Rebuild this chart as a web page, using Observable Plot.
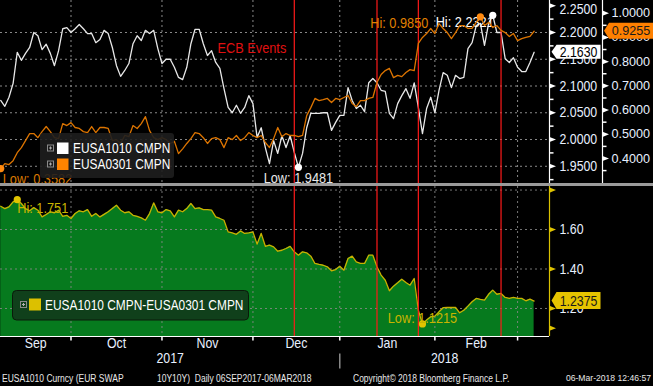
<!DOCTYPE html>
<html><head><meta charset="utf-8">
<script src="https://cdn.jsdelivr.net/npm/d3@7"></script>
<script src="https://cdn.jsdelivr.net/npm/@observablehq/plot@0.6"></script>
<style>
html,body{margin:0;padding:0;background:#000;}
#root{position:relative;width:653px;height:386px;overflow:hidden;background:#000;}
#root svg{position:absolute;left:0;}
</style></head><body><div id="root"></div>
<script>
// ---------------- data ----------------
const startDate = "2017-09-06", endDate = "2018-03-06";
const eventDates = ["2017-12-14", "2018-01-11", "2018-01-25", "2018-02-22"];
const eventLabel = "ECB Events";
const seriesNames = ["EUSA1010 CMPN", "EUSA0301 CMPN"];
const spreadName = "EUSA1010 CMPN-EUSA0301 CMPN";
const eusa1010 = [2.073,2.062,2.079,2.105,2.163,2.148,2.161,2.172,2.200,2.194,2.168,2.178,2.161,2.138,2.166,2.207,2.209,2.200,2.207,2.215,
2.207,2.198,2.198,2.181,2.187,2.204,2.198,2.172,2.138,2.118,2.129,2.142,2.179,2.194,2.185,2.204,2.198,2.204,2.170,2.142,
2.150,2.150,2.135,2.116,2.112,2.135,2.179,2.206,2.206,2.179,2.157,2.166,2.144,2.133,2.095,2.060,2.050,2.064,2.049,2.060,
2.082,2.067,2.004,2.022,1.985,1.955,1.998,1.974,2.007,1.985,2.007,1.976,1.9481,1.974,2.022,2.049,2.049,2.049,2.050,2.050,
2.017,2.032,2.045,2.045,2.097,2.073,2.058,2.064,2.052,2.106,2.114,2.106,2.092,2.090,2.049,2.039,2.067,2.082,2.095,2.077,
2.106,2.060,2.011,2.058,2.079,2.050,2.092,2.125,2.120,2.097,2.120,2.114,2.116,2.170,2.181,2.213,2.217,2.176,2.217,2.2321,
2.200,2.200,2.151,2.144,2.153,2.135,2.127,2.127,2.144,2.163];
const eusa0301 = [0.3582,0.379,0.375,0.391,0.424,0.445,0.474,0.503,0.503,0.486,0.511,0.532,0.511,0.486,0.482,0.544,0.536,0.548,0.528,0.524,
0.511,0.507,0.532,0.507,0.528,0.528,0.524,0.474,0.478,0.462,0.495,0.490,0.536,0.524,0.544,0.573,0.515,0.486,0.478,0.486,
0.478,0.462,0.471,0.420,0.440,0.462,0.482,0.507,0.503,0.486,0.462,0.482,0.486,0.478,0.445,0.486,0.478,0.495,0.474,0.486,
0.507,0.495,0.486,0.495,0.466,0.445,0.482,0.528,0.490,0.503,0.495,0.495,0.490,0.495,0.577,0.610,0.648,0.639,0.643,0.648,
0.631,0.648,0.643,0.652,0.660,0.627,0.614,0.639,0.639,0.648,0.652,0.714,0.747,0.763,0.772,0.734,0.743,0.738,0.755,0.767,
0.763,0.875,0.900,0.916,0.937,0.916,0.957,0.937,0.920,0.895,0.920,0.949,0.949,0.937,0.937,0.962,0.985,0.949,0.962,0.941,
0.949,0.929,0.920,0.904,0.916,0.887,0.895,0.900,0.904,0.9255];
const spread = [1.718,1.706,1.715,1.740,1.751,1.732,1.706,1.695,1.711,1.698,1.664,1.676,1.690,1.685,1.698,1.667,1.672,1.656,1.681,1.695,
1.690,1.701,1.667,1.681,1.664,1.677,1.690,1.706,1.723,1.698,1.685,1.690,1.672,1.667,1.659,1.647,1.681,1.735,1.690,1.685,
1.701,1.695,1.664,1.698,1.690,1.706,1.732,1.706,1.710,1.701,1.701,1.698,1.664,1.656,1.647,1.588,1.583,1.576,1.593,1.580,
1.583,1.588,1.526,1.580,1.515,1.521,1.512,1.490,1.495,1.504,1.515,1.487,1.470,1.487,1.482,1.465,1.428,1.423,1.419,1.411,
1.391,1.397,1.414,1.394,1.453,1.465,1.436,1.428,1.428,1.470,1.470,1.411,1.369,1.343,1.290,1.313,1.330,1.348,1.332,1.318,
1.352,1.191,1.1215,1.141,1.158,1.161,1.183,1.204,1.205,1.205,1.205,1.178,1.191,1.212,1.234,1.251,1.246,1.242,1.272,1.293,
1.272,1.276,1.256,1.251,1.256,1.251,1.251,1.239,1.247,1.2375];
const ticksLeft = [2.25, 2.20, 2.15, 2.10, 2.05, 2.00, 1.95];
const ticksRight = [1.0, 0.9, 0.8, 0.7, 0.6, 0.5, 0.4];
const ticksBottomLabelled = [1.6, 1.4, 1.2];
const ticksBottomArrows = [1.8, 1.6, 1.4, 1.2, 1.1];
const monthLabels = ["Sep", "Oct", "Nov", "Dec", "Jan", "Feb"];
const footerTexts = ["EUSA1010 Curncy (EUR SWAP", "10Y10Y)  Daily 06SEP2017-06MAR2018", "Copyright\u00A9 2018 Bloomberg Finance L.P.", "06-Mar-2018 12:46:57"];

// ---------------- derived ----------------
const dates = [];
for (let d = new Date(startDate + "T00:00:00Z"); d <= new Date(endDate + "T00:00:00Z"); d.setUTCDate(d.getUTCDate() + 1)) {
  const w = d.getUTCDay(); if (w !== 0 && w !== 6) dates.push(d.toISOString().slice(0, 10));
}
const rows = dates.map((date, i) => ({i, date, a: eusa1010[i], b: eusa0301[i], s: spread[i]}));
const monthEnds = d3.range(dates.length - 1).filter(i => dates[i].slice(5, 7) !== dates[i + 1].slice(5, 7));
const yearEnds = d3.range(dates.length - 1).filter(i => dates[i].slice(0, 4) !== dates[i + 1].slice(0, 4));
const eventIdx = eventDates.map(d => dates.indexOf(d));

// ---------------- layout ----------------
const W = 653, HA = 183, RA = 549, RB = 602, TOPC = 186, HC = 200, PC = 150;
const xDomain = [-0.05, 132.72];
const xDomainB = [xDomain[0], xDomain[0] + (xDomain[1] - xDomain[0]) * RB / RA];
const yA = [1.9178, 2.2598], yB = [0.2967, 1.0525], yC = [1.058, 1.818];

const FF = "'Liberation Sans',Arial,sans-serif";
const CONDENSE = 0.85;

const C_WHITE = "#e8e8e8", C_ORANGE = "#dc7400", C_ORANGE_T = "#e28000", C_RED = "#ff1a1a", C_GRID = "#8a8a8a",
      C_AX = "#e8f0ff", C_YEL = "#c9b100", C_YEL_T = "#c8b400", C_GREEN = "#067a1e";
const DASH = "2,3";
const FS_AX = 14.5, FS_AXR = 12.6, FS_ANN = 15, FS_LEG = 14, FS_MON = 14.5, FS_FOOT = 10, FS_FOOT_R = 8.6;

const arrowSym = {draw(ctx){ctx.moveTo(0,-2.6);ctx.lineTo(6.5,0);ctx.lineTo(0,2.6);ctx.closePath();}};
const minorSym = {draw(ctx){ctx.moveTo(0,0);ctx.lineTo(4,0);}};
const vtickSym = {draw(ctx){ctx.moveTo(0,0);ctx.lineTo(0,4);}};
const ysepSym = {draw(ctx){ctx.moveTo(0,17);ctx.lineTo(0,32);}};
const mids = arr => d3.pairs(arr).map(([p, q]) => (p + q) / 2);

const root = document.getElementById("root");

// ---------------- panel A : EUSA1010 ----------------
const aMin = d3.minIndex(eusa1010), aMax = d3.maxIndex(eusa1010);
const minorLeft = mids(ticksLeft).concat([1.925]);
const plotA = Plot.plot({
  width: W, height: HA, marginLeft: 0, marginRight: W - RA, marginTop: 0, marginBottom: 0,
  x: {domain: xDomain, axis: null}, y: {domain: yA, axis: null},
  style: {background: "transparent", overflow: "visible"},
  marks: [
    Plot.ruleY(ticksLeft.slice(1), {stroke: C_GRID, strokeDasharray: DASH}),
    Plot.ruleX(monthEnds, {stroke: C_GRID, strokeDasharray: DASH}),
    Plot.line(rows, {x: "i", y: "a", stroke: C_WHITE, strokeWidth: 1.3}),
    Plot.ruleX(eventIdx, {stroke: C_RED, strokeWidth: 1.2}),
    Plot.text([eventIdx[0]], {x: d => d, text: () => eventLabel, frameAnchor: "top", dy: 42, dx: -8, textAnchor: "end", fill: "#e01010", fontSize: FS_ANN, fontFamily: FF}),
    Plot.dot([rows[aMin], rows[aMax]], {x: "i", y: "a", r: 3.6, fill: "#ffffff"}),
    Plot.text([rows[aMin]], {x: "i", y: "a", text: d => `Low: ${d.a.toFixed(4)}`, dy: 11, textAnchor: "middle", fill: C_WHITE, fontSize: FS_ANN, fontFamily: FF}),
    Plot.text([rows[aMax]], {x: "i", y: "a", text: d => `Hi: ${d.a.toFixed(4)}`, dy: 7, dx: 1, textAnchor: "end", fill: "#ffffff", fontSize: FS_ANN, fontFamily: FF}),
    Plot.ruleX([xDomain[1]], {stroke: "#ffffff", strokeWidth: 1.2}),
    Plot.dot(ticksLeft, {y: d => d, frameAnchor: "right", symbol: arrowSym, fill: "#ffffff", stroke: "none"}),
    Plot.dot(minorLeft, {y: d => d, frameAnchor: "right", symbol: minorSym, fill: "none", stroke: "#ffffff"}),
    Plot.text(ticksLeft.slice(0, 1), {y: d => d, text: d => d.toFixed(4), frameAnchor: "right", dx: 10, dy: 3.5, textAnchor: "start", fill: C_AX, fontSize: FS_AX, fontFamily: FF}),
    Plot.text(ticksLeft.slice(1), {y: d => d, text: d => d.toFixed(4), frameAnchor: "right", dx: 10, textAnchor: "start", fill: C_AX, fontSize: FS_AX, fontFamily: FF})
  ]
});
plotA.style.top = "0px";
root.appendChild(plotA);

// ---------------- panel B : EUSA0301 (second axis) ----------------
const bMin = d3.minIndex(eusa0301), bMax = d3.maxIndex(eusa0301);
const minorRight = mids(ticksRight).concat([0.35]);
const plotB = Plot.plot({
  width: W, height: HA, marginLeft: 0, marginRight: W - RB, marginTop: 0, marginBottom: 0,
  x: {domain: xDomainB, axis: null}, y: {domain: yB, axis: null},
  style: {background: "transparent", overflow: "visible"},
  marks: [
    Plot.line(rows, {x: "i", y: "b", stroke: C_ORANGE, strokeWidth: 1.3}),
    Plot.dot([rows[bMin], rows[bMax]], {x: "i", y: "b", r: 3.6, fill: "#ff8a10"}),
    Plot.text([rows[bMin]], {x: "i", y: "b", text: d => `Low: ${d.b.toFixed(4)}`, dy: 11, dx: 2, textAnchor: "start", fill: "#d97800", fontSize: FS_ANN, fontFamily: FF}),
    Plot.text([rows[bMax]], {x: "i", y: "b", text: d => `Hi: ${d.b.toFixed(4)}`, dy: 6, dx: -52, textAnchor: "end", fill: C_ORANGE_T, fontSize: FS_ANN, fontFamily: FF}),
    Plot.ruleX([xDomainB[1]], {stroke: "#ffffff", strokeWidth: 1.2}),
    Plot.dot(ticksRight, {y: d => d, frameAnchor: "right", symbol: arrowSym, fill: "#ffffff", stroke: "none"}),
    Plot.dot(minorRight, {y: d => d, frameAnchor: "right", symbol: minorSym, fill: "none", stroke: "#ffffff"}),
    Plot.text(ticksRight, {y: d => d, text: d => d.toFixed(4), frameAnchor: "right", dx: 9, textAnchor: "start", fill: C_AX, fontSize: FS_AXR, fontFamily: FF})
  ]
});
plotB.style.top = "0px";
plotB.setAttribute("data-nocondense", "1");
root.appendChild(plotB);

// ---------------- panel C : spread ----------------
const sMin = d3.minIndex(spread), sMax = d3.maxIndex(spread);
const fmtS = v => String(+v.toFixed(4));
const monthPos = mids([xDomain[0], ...monthEnds]).slice(0, monthLabels.length).map((p, k) => ({p, label: monthLabels[k]}));
const yearPos = mids([xDomain[0], ...yearEnds, xDomain[1]]).map((p, k) => ({p, label: dates[k === 0 ? 0 : dates.length - 1].slice(0, 4)}));
const plotC = Plot.plot({
  width: W, height: HC, marginLeft: 0, marginRight: W - RA, marginTop: 0, marginBottom: HC - PC,
  x: {domain: xDomain, axis: null}, y: {domain: yC, axis: null},
  style: {background: "transparent", overflow: "visible"},
  marks: [
    Plot.areaY(rows, {x: "i", y1: yC[0], y2: "s", fill: C_GREEN}),
    Plot.ruleY([1.8, ...ticksBottomLabelled], {stroke: C_GRID, strokeOpacity: 0.85, strokeDasharray: DASH}),
    Plot.ruleX(monthEnds, {stroke: C_GRID, strokeOpacity: 0.85, strokeDasharray: DASH}),
    Plot.line(rows, {x: "i", y: "s", stroke: C_YEL, strokeWidth: 1.3}),
    Plot.ruleX(eventIdx, {stroke: C_RED, strokeWidth: 1.2}),
    Plot.dot([rows[sMin], rows[sMax]], {x: "i", y: "s", r: 3.6, fill: "#e0c400"}),
    Plot.text([rows[sMax]], {x: "i", y: "s", text: d => `Hi: ${fmtS(d.s)}`, dy: 8, dx: 0, textAnchor: "start", fill: C_YEL_T, fontSize: FS_ANN, fontFamily: FF}),
    Plot.text([rows[sMin]], {x: "i", y: "s", text: d => `Low: ${fmtS(d.s)}`, dy: -5.5, textAnchor: "middle", fill: C_YEL_T, fontSize: FS_ANN, fontFamily: FF}),
    Plot.ruleY([yC[0]], {stroke: "#ffffff", strokeWidth: 1.2}),
    Plot.ruleX([xDomain[1]], {stroke: "#d8c000", strokeWidth: 1.2}),
    Plot.dot(ticksBottomArrows, {y: d => d, frameAnchor: "right", symbol: arrowSym, fill: "#e0c400", stroke: "none"}),
    Plot.text(ticksBottomLabelled, {y: d => d, text: d => d.toFixed(2), frameAnchor: "right", dx: 10, textAnchor: "start", fill: C_AX, fontSize: FS_AX, fontFamily: FF}),
    Plot.dot(monthEnds, {x: d => d, frameAnchor: "bottom", symbol: vtickSym, fill: "none", stroke: "#ffffff"}),
    Plot.dot(yearEnds, {x: d => d, frameAnchor: "bottom", symbol: ysepSym, fill: "none", stroke: "#8a8a8a"}),
    Plot.text(monthPos, {x: "p", text: "label", frameAnchor: "bottom", dy: 11, fill: C_AX, fontSize: FS_MON, fontFamily: FF}),
    Plot.text(yearPos, {x: "p", text: "label", frameAnchor: "bottom", dy: 26, fill: C_AX, fontSize: FS_MON, fontFamily: FF})
  ]
});
plotC.style.top = TOPC + "px";
root.appendChild(plotC);

// ---------------- overlay: separator, legends, value boxes, footer ----------------
const ov = d3.select(root).append("svg").attr("width", W).attr("height", 386).style("top", "0px");
ov.append("rect").attr("x", 0).attr("y", HA).attr("width", W).attr("height", TOPC - HA).attr("fill", "#9a9a9a");

function plusIcon(g, x, y) {
  g.append("rect").attr("x", x + 0.5).attr("y", y + 0.5).attr("width", 6).attr("height", 6).attr("fill", "none").attr("stroke", "#8a8a8a");
  g.append("path").attr("d", `M${x+2},${y+3.5}H${x+5}M${x+3.5},${y+2}V${y+5}`).attr("stroke", "#b0b0b0");
}
// top legend
const lg = ov.append("g").attr("transform", "translate(40,133)");
lg.append("rect").attr("width", 134).attr("height", 45).attr("rx", 3).attr("fill", "rgba(30,30,30,0.9)");
const legendColors = ["#ffffff", "#ff8400"];
seriesNames.forEach((n, k) => {
  const cy = 15 + 16 * k;
  plusIcon(lg, 7, cy - 3.5);
  lg.append("rect").attr("x", 17).attr("y", cy - 5.5).attr("width", 11.5).attr("height", 11.5).attr("fill", legendColors[k]);
  lg.append("text").attr("x", 33).attr("y", cy).attr("dy", "0.36em").attr("fill", "#ffffff")
    .style("font-family", FF).style("font-size", FS_LEG + "px").text(n);
});
// bottom legend
const lg2 = ov.append("g").attr("transform", "translate(12,290)");
lg2.append("rect").attr("x", 0.5).attr("y", 0.5).attr("width", 236).attr("height", 29.5).attr("rx", 4).attr("fill", "#10401b").attr("stroke", "#0a1a0a");
plusIcon(lg2, 8, 11);
lg2.append("rect").attr("x", 17).attr("y", 8.5).attr("width", 12).attr("height", 12).attr("fill", "#dcc000");
lg2.append("text").attr("x", 33).attr("y", 14.5).attr("dy", "0.36em").attr("fill", "#ffffff")
  .style("font-family", FF).style("font-size", FS_LEG + "px").text(spreadName);

// last-value boxes
function valueBox(xTip, yc, w, h, bg, fg, txt, size, condense) {
  const g = ov.append("g");
  g.append("path").attr("d", `M${xTip},${yc}L${xTip+5},${yc-h/2}H${xTip+w}V${yc+h/2}H${xTip+5}Z`).attr("fill", bg);
  g.append("text").attr("x", xTip + 5 + (w - 5) / 2).attr("y", yc).attr("dy", "0.36em").attr("text-anchor", "middle")
    .attr("fill", fg).attr("data-nocondense", condense ? null : "1").style("font-family", FF).style("font-size", size + "px").text(txt);
}
const sA = d3.scaleLinear(yA, [HA, 0]), sB = d3.scaleLinear(yB, [HA, 0]), sC = d3.scaleLinear(yC, [TOPC + PC, TOPC]);
valueBox(RA + 2.5, sA(eusa1010.at(-1)), 49, 14, "#ffffff", "#000000", eusa1010.at(-1).toFixed(4), FS_AX, true);
valueBox(RB + 2, sB(eusa0301.at(-1)), 49, 16, "#ff8000", "#1a1a1a", eusa0301.at(-1).toFixed(4), FS_AXR, false);
valueBox(RA + 2.5, sC(spread.at(-1)), 49, 17, "#e6c400", "#1a1a1a", spread.at(-1).toFixed(4), FS_AX, true);

// footer
const fx = [2, 157, 353, 651];
footerTexts.forEach((t, k) => {
  const last = k === footerTexts.length - 1;
  ov.append("text").attr("x", fx[k]).attr("y", 378).attr("dy", "0.36em").attr("text-anchor", last ? "end" : "start")
    .attr("data-nocondense", last ? "1" : null)
    .attr("fill", "#e8e8e8").style("font-family", FF).style("font-size", (last ? FS_FOOT_R : FS_FOOT) + "px").style("white-space", "pre").text(t);
});

// condense text horizontally (Bloomberg's narrow face), except labels hugging the right edge
root.querySelectorAll("svg text").forEach(t => {
  if (t.closest("[data-nocondense]") && !/^Hi:|^Low:/.test(t.textContent)) return;
  const L = t.getComputedTextLength();
  if (L > 0) { t.setAttribute("textLength", (L * CONDENSE).toFixed(2)); t.setAttribute("lengthAdjust", "spacingAndGlyphs"); }
});
</script></body></html>
